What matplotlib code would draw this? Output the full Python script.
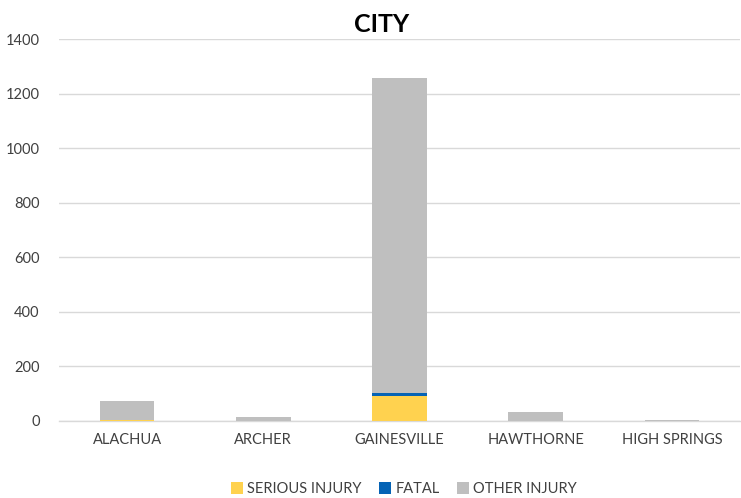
import matplotlib
matplotlib.use("Agg")
import matplotlib.pyplot as plt
import numpy as np

categories = ["ALACHUA", "ARCHER", "GAINESVILLE", "HAWTHORNE", "HIGH SPRINGS"]
serious = [5, 0, 93, 0, 0]
fatal = [0, 0, 8, 0, 0]
other = [67, 16, 1156, 33, 5]

plt.rcParams['font.family'] = ['Lato', 'DejaVu Sans']

fig = plt.figure(figsize=(7.41, 4.98), dpi=100)
W, H = 741, 498
ax = fig.add_axes([59 / W, 1 - 421 / H, (740 - 59) / W, (421 - 39) / H])

x = np.arange(len(categories))
w = 0.4
s = np.array(serious); f = np.array(fatal); o = np.array(other)
ax.bar(x, s, w, color="#ffd24f", label="SERIOUS INJURY", zorder=3)
ax.bar(x, f, w, bottom=s, color="#0563b5", label="FATAL", zorder=3)
ax.bar(x, o, w, bottom=s + f, color="#bfbfbf", label="OTHER INJURY", zorder=3)

ax.set_xlim(-0.5, len(categories) - 0.5)
ax.set_ylim(0, 1400)
ax.set_yticks(range(0, 1401, 200))
ax.yaxis.grid(True, color="#d9d9d9", linewidth=1, zorder=0)
ax.set_axisbelow(True)
for sp in ["top", "right", "left"]:
    ax.spines[sp].set_visible(False)
ax.spines["bottom"].set_color("#d9d9d9")
ax.spines["bottom"].set_linewidth(1)
ax.tick_params(axis="both", length=0, labelsize=10.5, colors="#404040")
ax.tick_params(axis="x", pad=9)
ax.tick_params(axis="y", pad=14)
ax.set_xticks(x)
ax.set_xticklabels(categories)

fig.text(382 / W, 1 - 24 / H, "CITY", ha="center", va="center", fontsize=18,
         fontweight="bold", color="#000000")

handles, labels = ax.get_legend_handles_labels()
fig.legend(handles, labels, loc="center", bbox_to_anchor=(404 / W, 1 - 489 / H),
           ncol=3, frameon=False, fontsize=10.5, handlelength=0.8, handleheight=0.8,
           handletextpad=0.3, columnspacing=1.2, labelcolor="#404040")

fig.savefig("out.png", dpi=100)
